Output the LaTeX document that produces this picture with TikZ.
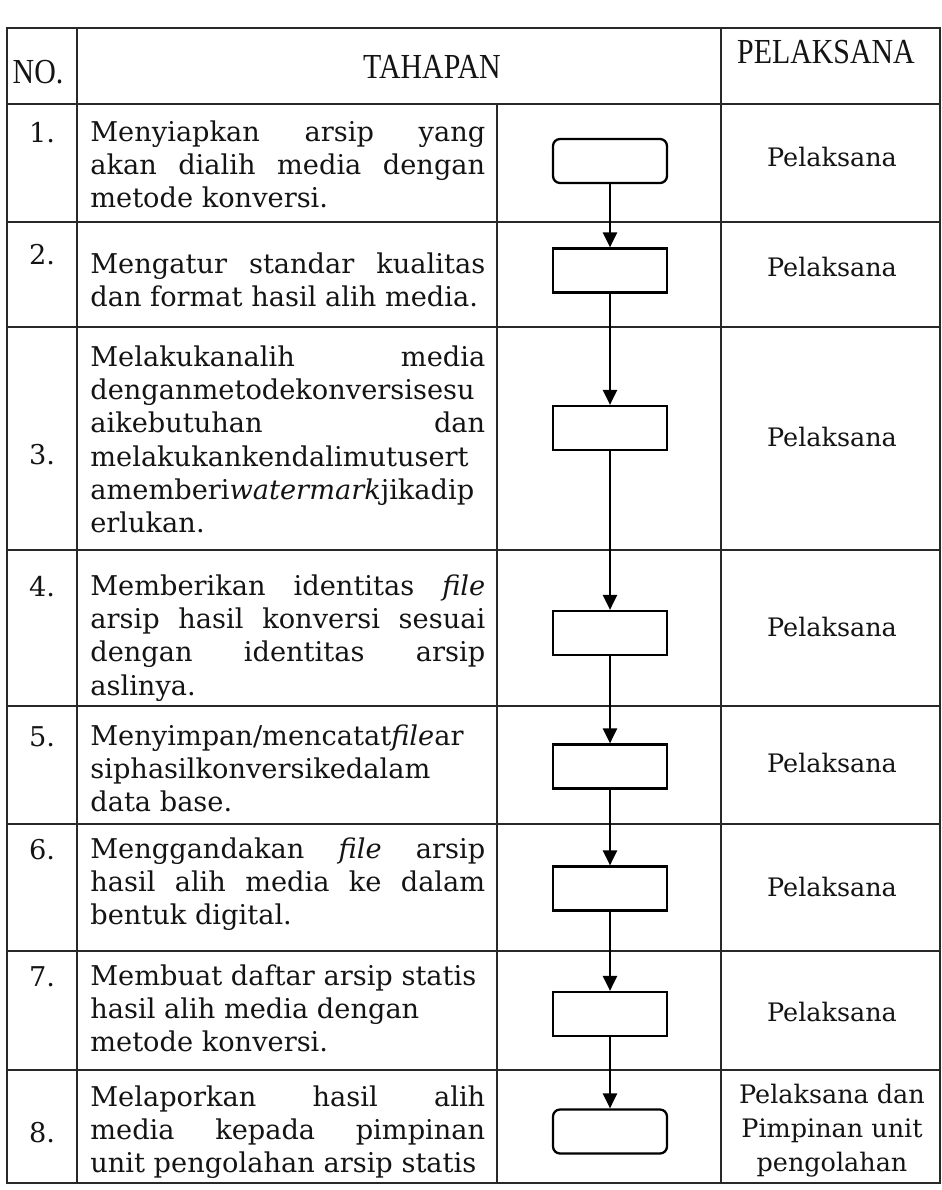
\documentclass[tikz,border=0pt]{standalone}
\usepackage{fontspec}
\setmainfont{DejaVu Serif}
\newfontfamily\headfont[FakeStretch=0.85]{Liberation Serif}
\usepackage{xcolor}
\definecolor{sopLine}{RGB}{40,40,40}
\definecolor{sopInk}{RGB}{20,20,20}
\usetikzlibrary{arrows.meta,positioning}
\hyphenpenalty=10000
\exhyphenpenalty=10000

\begin{document}
\begin{tikzpicture}[
  x=0.02cm, y=-0.02cm,
  head/.style={font=\headfont\fontsize{20}{24}\selectfont, text=sopInk, inner sep=0pt},
  num/.style={font=\fontsize{15.5}{19}\selectfont, text=sopInk, inner sep=0pt},
  steptext/.style={anchor=base west, text width=7.9cm, align=justify, inner sep=0pt,
                   text=sopInk, font=\fontsize{15.5}{19}\selectfont},
  who/.style={font=\fontsize{14.5}{19.3}\selectfont, align=center, text=sopInk, inner sep=0pt},
  procbox/.style={draw=black, line width=1.3pt, minimum width=2.28cm,
                  minimum height=0.88cm, inner sep=0pt},
  termbox/.style={procbox, rounded corners=4pt},
  flow/.style={-{Triangle[length=8.5pt,width=8pt]}, line width=1.2pt},
  tablerule/.style={sopLine, line width=1pt}
]
  \useasboundingbox (0,0) rectangle (941,1190);

  \draw[tablerule] (7,28) rectangle (940,1183);
  \draw[tablerule] (7,104) -- (940,104);
  \foreach \y in {222,327,550,706,824,951,1070}
    \draw[tablerule] (7,\y) -- (940,\y);
  \draw[tablerule] (77,28) -- (77,1183);
  \draw[tablerule] (721,28) -- (721,1183);
  \draw[tablerule] (497,104) -- (497,1183);

  \node[head] (hno)   at (38,72)  {NO.};
  \node[head] (hstep) at (432,67) {TAHAPAN};
  \node[head] (hwho)  at (826,52) {PELAKSANA};

  \node[num] (n1) at (42,133)  {1.};
  \node[num] (n2) at (42,255)  {2.};
  \node[num] (n3) at (42,455)  {3.};
  \node[num] (n4) at (42,587)  {4.};
  \node[num] (n5) at (42,737)  {5.};
  \node[num] (n6) at (42,850)  {6.};
  \node[num] (n7) at (42,977)  {7.};
  \node[num] (n8) at (42,1133) {8.};

  \node[steptext] (t1) at (90,141)
    {Menyiapkan arsip yang\linebreak akan dialih media dengan\linebreak metode konversi.};
  \node[steptext] (t2) at (90,273)
    {Mengatur standar kualitas\linebreak dan format hasil alih media.};
  \node[steptext] (t3) at (90,366)
    {Melakukanalih media\linebreak denganmetodekonversisesu\\ aikebutuhan dan\linebreak
     melakukankendalimutusert\\ amemberi\emph{watermark}jikadip\\ erlukan.};
  \node[steptext] (t4) at (90,595)
    {Memberikan identitas \emph{file}\linebreak arsip hasil konversi sesuai\linebreak
     dengan identitas arsip\linebreak aslinya.};
  \node[steptext] (t5) at (90,745)
    {Menyimpan/mencatat\emph{file}ar\\ siphasilkonversikedalam\\ data base.};
  \node[steptext] (t6) at (90,858)
    {Menggandakan \emph{file} arsip\linebreak hasil alih media ke dalam\linebreak bentuk digital.};
  \node[steptext] (t7) at (90,985)
    {Membuat daftar arsip statis\\ hasil alih media dengan\\ metode konversi.};
  \node[steptext] (t8) at (90,1106)
    {Melaporkan hasil alih\linebreak media kepada pimpinan\linebreak unit pengolahan arsip statis};

  \node[termbox] (b1) at (610,161)    {};
  \node[procbox] (b2) at (610,270.5)  {};
  \node[procbox] (b3) at (610,428)    {};
  \node[procbox] (b4) at (610,633)    {};
  \node[procbox] (b5) at (610,766.5)  {};
  \node[procbox] (b6) at (610,888.5)  {};
  \node[procbox] (b7) at (610,1014)   {};
  \node[termbox] (b8) at (610,1131.5) {};

  \foreach \a/\b in {b1/b2,b2/b3,b3/b4,b4/b5,b5/b6,b6/b7,b7/b8}
    \draw[flow] (\a) -- (\b);

  \node[who] (p1) at (832,157)  {Pelaksana};
  \node[who] (p2) at (832,267)  {Pelaksana};
  \node[who] (p3) at (832,437)  {Pelaksana};
  \node[who] (p4) at (832,627)  {Pelaksana};
  \node[who] (p5) at (832,763)  {Pelaksana};
  \node[who] (p6) at (832,887)  {Pelaksana};
  \node[who] (p7) at (832,1012) {Pelaksana};
  \node[who] (p8) at (832,1131) {Pelaksana dan\\ Pimpinan unit\\ pengolahan};
\end{tikzpicture}
\end{document}
